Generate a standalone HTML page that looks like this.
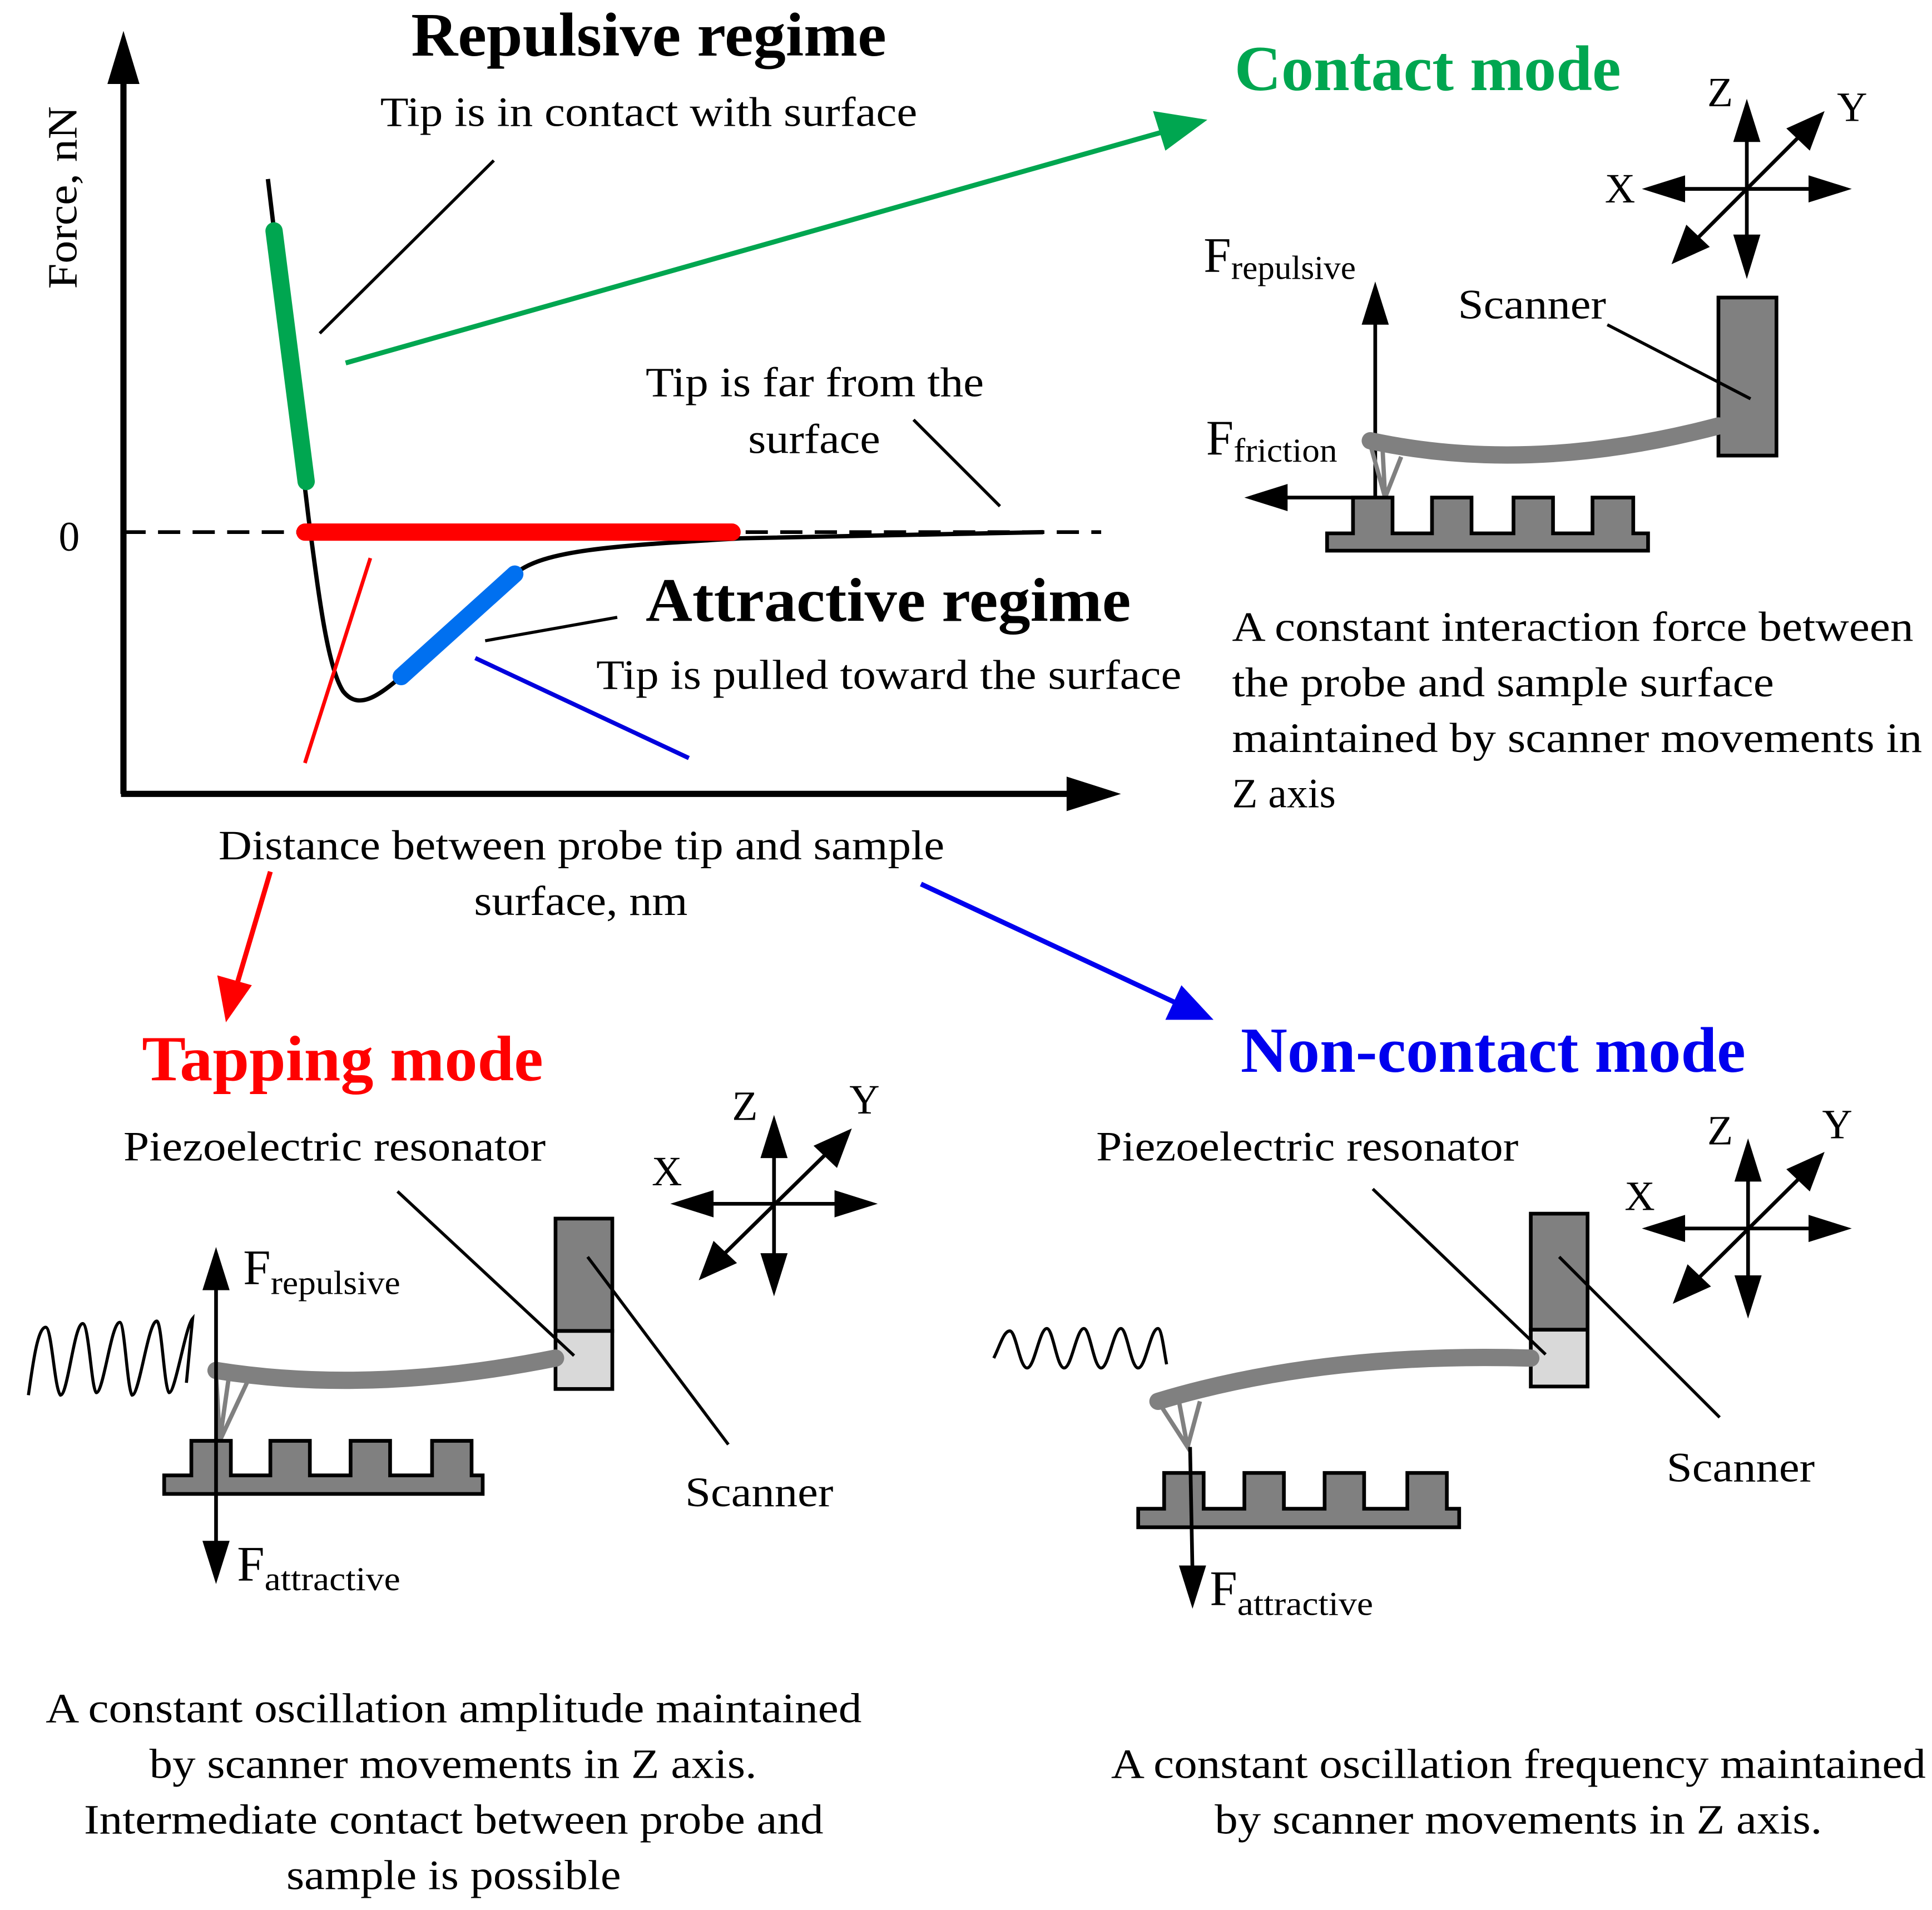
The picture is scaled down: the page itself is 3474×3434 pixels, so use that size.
<!DOCTYPE html>
<html><head><meta charset="utf-8"><style>
html,body{margin:0;padding:0;background:#fff;}
svg{display:block;}
text{font-family:"Liberation Serif",serif;fill:#000;}
</style></head><body>
<svg width="3474" height="3434" viewBox="0 0 1565 1547" preserveAspectRatio="none" xmlns="http://www.w3.org/2000/svg">
<!-- axes -->
<line x1="100" y1="643" x2="100" y2="60" stroke="#000" stroke-width="5"/>
<polygon points="100,25 87,68 113,68" fill="#000"/>
<line x1="98" y1="643" x2="870" y2="643" stroke="#000" stroke-width="5"/>
<polygon points="908,643 864,629 864,657" fill="#000"/>
<text x="62" y="160" font-size="34" transform="rotate(-90 62 160)" text-anchor="middle" textLength="148" lengthAdjust="spacingAndGlyphs">Force, nN</text>
<text x="56" y="446" font-size="34" text-anchor="middle">0</text>
<line x1="100" y1="431" x2="892" y2="431" stroke="#000" stroke-width="3" stroke-dasharray="18,10"/>
<!-- curve -->
<path d="M217,145 L250,420 C258,480 265,540 278,560 C290,575 305,565 325,548 L417,465 C440,445 500,442 600,436 L845,431" fill="none" stroke="#000" stroke-width="3.5"/>
<line x1="222" y1="187" x2="248" y2="390" stroke="#00a650" stroke-width="14" stroke-linecap="round"/>
<line x1="247" y1="431" x2="593" y2="431" stroke="#ff0000" stroke-width="14" stroke-linecap="round"/>
<line x1="325" y1="548" x2="417" y2="465" stroke="#0070f0" stroke-width="14" stroke-linecap="round"/>
<line x1="300" y1="452" x2="247" y2="618" stroke="#ff0000" stroke-width="3"/>
<line x1="385" y1="533" x2="558" y2="614" stroke="#0000dd" stroke-width="3.5"/>
<line x1="400" y1="130" x2="259" y2="270" stroke="#000" stroke-width="2.5"/>
<line x1="740" y1="340" x2="810" y2="410" stroke="#000" stroke-width="2.5"/>
<line x1="393" y1="519" x2="500" y2="500" stroke="#000" stroke-width="2.5"/>
<!-- green arrow -->
<line x1="280" y1="294" x2="945" y2="106" stroke="#00a650" stroke-width="4"/>
<polygon points="978,97 934,90 944,122" fill="#00a650"/>
<text x="333" y="45" font-size="50" font-weight="bold" textLength="385" lengthAdjust="spacingAndGlyphs">Repulsive regime</text>
<text x="308" y="102" font-size="34" textLength="435" lengthAdjust="spacingAndGlyphs">Tip is in contact with surface</text>
<text x="523" y="321" font-size="34" textLength="274" lengthAdjust="spacingAndGlyphs">Tip is far from the</text>
<text x="606" y="367" font-size="34" textLength="107" lengthAdjust="spacingAndGlyphs">surface</text>
<text x="523" y="503" font-size="50" font-weight="bold" textLength="393" lengthAdjust="spacingAndGlyphs">Attractive regime</text>
<text x="483" y="558" font-size="34" textLength="474" lengthAdjust="spacingAndGlyphs">Tip is pulled toward the surface</text>
<text x="177" y="696" font-size="34" textLength="588" lengthAdjust="spacingAndGlyphs">Distance between probe tip and sample</text>
<text x="384" y="741" font-size="34" textLength="173" lengthAdjust="spacingAndGlyphs">surface, nm</text>

<!-- contact mode -->
<text x="1000" y="73" font-size="52" font-weight="bold" style="fill:#00a650" textLength="313" lengthAdjust="spacingAndGlyphs">Contact mode</text>
<g stroke="#000" stroke-width="3" fill="none">
<line x1="1415" y1="110" x2="1415" y2="195"/>
<line x1="1340" y1="153" x2="1495" y2="153"/>
<line x1="1360" y1="208" x2="1474" y2="94"/>
</g>
<polygon points="1415,80 1404,115 1426,115" fill="#000"/>
<polygon points="1415,226 1404,190 1426,190" fill="#000"/>
<polygon points="1330,153 1365,142 1365,164" fill="#000"/>
<polygon points="1500,153 1465,142 1465,164" fill="#000"/>
<polygon points="1478,90 1466,122 1447,104" fill="#000"/>
<polygon points="1354,214 1366,182 1385,200" fill="#000"/>
<text x="1383" y="86" font-size="34">Z</text>
<text x="1488" y="98" font-size="34">Y</text>
<text x="1300" y="164" font-size="34">X</text>
<line x1="1114" y1="403" x2="1114" y2="258" stroke="#000" stroke-width="3"/>
<polygon points="1114,228 1103,263 1125,263" fill="#000"/>
<line x1="1114" y1="403" x2="1040" y2="403" stroke="#000" stroke-width="3"/>
<polygon points="1008,403 1043,392 1043,414" fill="#000"/>
<text x="975" y="220" font-size="40">F<tspan font-size="27" dy="6" textLength="101" lengthAdjust="spacingAndGlyphs">repulsive</tspan></text>
<text x="977" y="368" font-size="40">F<tspan font-size="27" dy="6" textLength="84" lengthAdjust="spacingAndGlyphs">friction</tspan></text>
<rect x="1392" y="241" width="47" height="128" fill="#808080" stroke="#000" stroke-width="3"/>
<text x="1181" y="258" font-size="34" textLength="120" lengthAdjust="spacingAndGlyphs">Scanner</text>
<line x1="1302" y1="263" x2="1418" y2="323" stroke="#000" stroke-width="2.5"/>
<path d="M1110,357 Q1240,385 1392,345" fill="none" stroke="#808080" stroke-width="14" stroke-linecap="round"/>
<path d="M1110,360 L1122,403 L1135,370 M1122,403 L1120,365" fill="none" stroke="#808080" stroke-width="3.5"/>
<path d="M1075,446 L1075,432 L1096,432 L1096,403 L1128,403 L1128,432 L1160,432 L1160,403 L1192,403 L1192,432 L1226,432 L1226,403 L1258,403 L1258,432 L1290,432 L1290,403 L1323,403 L1323,432 L1335,432 L1335,446 Z" fill="#808080" stroke="#000" stroke-width="3"/>
<text x="998" y="519" font-size="34" textLength="552" lengthAdjust="spacingAndGlyphs">A constant interaction force between</text>
<text x="998" y="564" font-size="34" textLength="439" lengthAdjust="spacingAndGlyphs">the probe and sample surface</text>
<text x="998" y="609" font-size="34" textLength="559" lengthAdjust="spacingAndGlyphs">maintained by scanner movements in</text>
<text x="998" y="654" font-size="34">Z axis</text>

<!-- red / blue arrows -->
<line x1="219" y1="706" x2="192" y2="797" stroke="#ff0000" stroke-width="4"/>
<polygon points="183,828 176,790 204,798" fill="#ff0000"/>
<line x1="746" y1="716" x2="952" y2="812" stroke="#0000ee" stroke-width="4"/>
<polygon points="983,826 944,826 957,798" fill="#0000ee"/>
<text x="115" y="875" font-size="52" font-weight="bold" style="fill:#ff0000" textLength="325" lengthAdjust="spacingAndGlyphs">Tapping mode</text>
<text x="1005" y="868" font-size="52" font-weight="bold" style="fill:#0000ee" textLength="409" lengthAdjust="spacingAndGlyphs">Non-contact mode</text>

<!-- tapping panel -->
<text x="100" y="940" font-size="34" textLength="342" lengthAdjust="spacingAndGlyphs">Piezoelectric resonator</text>
<g stroke="#000" stroke-width="3">
<line x1="627" y1="935" x2="627" y2="1020"/>
<line x1="553" y1="975" x2="700" y2="975"/>
<line x1="575" y1="1027" x2="684" y2="920"/>
</g>
<polygon points="627,903 616,938 638,938" fill="#000"/>
<polygon points="627,1050 616,1015 638,1015" fill="#000"/>
<polygon points="543,975 578,964 578,986" fill="#000"/>
<polygon points="711,975 676,964 676,986" fill="#000"/>
<polygon points="690,914 678,946 659,928" fill="#000"/>
<polygon points="566,1037 578,1005 597,1023" fill="#000"/>
<text x="593" y="907" font-size="34">Z</text>
<text x="688" y="902" font-size="34">Y</text>
<text x="528" y="960" font-size="34">X</text>
<rect x="450" y="987" width="46" height="91" fill="#808080" stroke="#000" stroke-width="3"/>
<rect x="450" y="1078" width="46" height="47" fill="#d9d9d9" stroke="#000" stroke-width="3"/>
<line x1="322" y1="965" x2="465" y2="1098" stroke="#000" stroke-width="2.5"/>
<line x1="476" y1="1018" x2="590" y2="1170" stroke="#000" stroke-width="2.5"/>
<text x="555" y="1220" font-size="34" textLength="120" lengthAdjust="spacingAndGlyphs">Scanner</text>
<path d="M175,1110 Q300,1130 450,1100" fill="none" stroke="#808080" stroke-width="14" stroke-linecap="round"/>
<path d="M175,1112 L178,1167 L200,1120 M178,1167 L185,1118" fill="none" stroke="#808080" stroke-width="3.5"/>
<path d="M133,1210 L133,1195 L155,1195 L155,1167 L187,1167 L187,1195 L219,1195 L219,1167 L251,1167 L251,1195 L284,1195 L284,1167 L316,1167 L316,1195 L350,1195 L350,1167 L382,1167 L382,1195 L391,1195 L391,1210 Z" fill="#808080" stroke="#000" stroke-width="3"/>
<line x1="175" y1="1040" x2="175" y2="1255" stroke="#000" stroke-width="3"/>
<polygon points="175,1010 164,1045 186,1045" fill="#000"/>
<polygon points="175,1283 164,1248 186,1248" fill="#000"/>
<text x="197" y="1040" font-size="40">F<tspan font-size="27" dy="8" textLength="105" lengthAdjust="spacingAndGlyphs">repulsive</tspan></text>
<text x="192" y="1280" font-size="40">F<tspan font-size="27" dy="8" textLength="110" lengthAdjust="spacingAndGlyphs">attractive</tspan></text>
<path d="M23,1130 C26,1110 30,1075 37,1075 C42,1075 44,1125 49,1130 C55,1130 60,1072 67,1072 C72,1072 74,1125 78,1128 C84,1128 90,1071 97,1071 C101,1071 103,1125 107,1130 C113,1130 120,1070 127,1070 C131,1070 133,1125 137,1128 C142,1128 150,1075 156,1068 L151,1120" fill="none" stroke="#000" stroke-width="2.5"/>
<text x="37" y="1395" font-size="34" textLength="661" lengthAdjust="spacingAndGlyphs">A constant oscillation amplitude maintained</text>
<text x="121" y="1440" font-size="34" textLength="492" lengthAdjust="spacingAndGlyphs">by scanner movements in Z axis.</text>
<text x="68" y="1485" font-size="34" textLength="599" lengthAdjust="spacingAndGlyphs">Intermediate contact between probe and</text>
<text x="232" y="1530" font-size="34" textLength="271" lengthAdjust="spacingAndGlyphs">sample is possible</text>

<!-- non-contact panel -->
<text x="888" y="940" font-size="34" textLength="342" lengthAdjust="spacingAndGlyphs">Piezoelectric resonator</text>
<g stroke="#000" stroke-width="3">
<line x1="1416" y1="955" x2="1416" y2="1040"/>
<line x1="1340" y1="995" x2="1490" y2="995"/>
<line x1="1364" y1="1047" x2="1472" y2="940"/>
</g>
<polygon points="1416,922 1405,957 1427,957" fill="#000"/>
<polygon points="1416,1068 1405,1033 1427,1033" fill="#000"/>
<polygon points="1330,995 1365,984 1365,1006" fill="#000"/>
<polygon points="1500,995 1465,984 1465,1006" fill="#000"/>
<polygon points="1478,933 1466,965 1447,947" fill="#000"/>
<polygon points="1355,1056 1367,1024 1386,1042" fill="#000"/>
<text x="1383" y="927" font-size="34">Z</text>
<text x="1476" y="922" font-size="34">Y</text>
<text x="1316" y="980" font-size="34">X</text>
<rect x="1240" y="983" width="46" height="94" fill="#808080" stroke="#000" stroke-width="3"/>
<rect x="1240" y="1077" width="46" height="46" fill="#d9d9d9" stroke="#000" stroke-width="3"/>
<line x1="1112" y1="963" x2="1252" y2="1097" stroke="#000" stroke-width="2.5"/>
<line x1="1263" y1="1018" x2="1393" y2="1148" stroke="#000" stroke-width="2.5"/>
<text x="1350" y="1200" font-size="34" textLength="120" lengthAdjust="spacingAndGlyphs">Scanner</text>
<path d="M938,1135 Q1070,1095 1240,1100" fill="none" stroke="#808080" stroke-width="14" stroke-linecap="round"/>
<path d="M940,1138 L962,1172 L972,1135 M962,1172 L955,1135" fill="none" stroke="#808080" stroke-width="3.5"/>
<path d="M922,1237 L922,1222 L943,1222 L943,1193 L975,1193 L975,1222 L1008,1222 L1008,1193 L1040,1193 L1040,1222 L1073,1222 L1073,1193 L1105,1193 L1105,1222 L1140,1222 L1140,1193 L1172,1193 L1172,1222 L1182,1222 L1182,1237 Z" fill="#808080" stroke="#000" stroke-width="3"/>
<line x1="964" y1="1172" x2="966" y2="1275" stroke="#000" stroke-width="3"/>
<polygon points="966,1303 955,1268 977,1268" fill="#000"/>
<text x="980" y="1300" font-size="40">F<tspan font-size="27" dy="8" textLength="110" lengthAdjust="spacingAndGlyphs">attractive</tspan></text>
<path d="M805,1100 C810,1090 813,1078 818,1078 C823,1078 826,1108 832,1108 C838,1108 842,1076 848,1076 C853,1076 856,1108 862,1108 C868,1108 872,1076 878,1076 C883,1076 886,1108 892,1108 C898,1108 902,1076 908,1076 C913,1076 916,1108 922,1108 C928,1108 932,1076 938,1076 C941,1076 943,1095 945,1105" fill="none" stroke="#000" stroke-width="2.5"/>
<text x="900" y="1440" font-size="34" textLength="660" lengthAdjust="spacingAndGlyphs">A constant oscillation frequency maintained</text>
<text x="984" y="1485" font-size="34" textLength="492" lengthAdjust="spacingAndGlyphs">by scanner movements in Z axis.</text>
</svg>
</body></html>
